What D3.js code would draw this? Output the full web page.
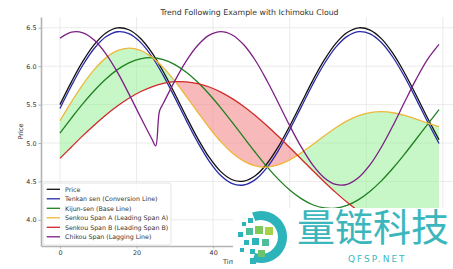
<!DOCTYPE html>
<html>
<head>
<meta charset="utf-8">
<script src="https://d3js.org/d3.v7.min.js"></script>
<style>
    body { margin: 0; background: #fff; }
    svg text { font-family: "DejaVu Sans", sans-serif; }
</style>
</head>
<body>
<script>
var time = [0, 3, 6, 9, 12, 15, 18, 21, 24, 27, 30, 33, 36, 39, 42, 45, 48, 51, 54, 57,
            60, 63, 66, 69, 72, 75, 78, 81, 84, 87, 90, 93, 96, 99];
var price = [5.500, 5.796, 6.065, 6.283, 6.432, 6.498, 6.474, 6.363, 6.176, 5.927, 5.641, 5.342,
             5.058, 4.812, 4.628, 4.522, 4.504, 4.574, 4.727, 4.949, 5.221, 5.517, 5.812, 6.078,
             6.294, 6.438, 6.499, 6.470, 6.355, 6.163, 5.912, 5.625, 5.326, 5.043];
var tenkan = [5.450, 5.746, 6.015, 6.233, 6.382, 6.448, 6.424, 6.313, 6.126, 5.877, 5.591, 5.292,
              5.008, 4.762, 4.578, 4.472, 4.454, 4.524, 4.677, 4.899, 5.171, 5.467, 5.762, 6.028,
              6.244, 6.388, 6.449, 6.420, 6.305, 6.113, 5.862, 5.575, 5.276, 4.993];
var kijun = [5.130, 5.325, 5.512, 5.683, 5.833, 5.955, 6.043, 6.096, 6.110, 6.084, 6.021, 5.922,
             5.792, 5.635, 5.458, 5.268, 5.073, 4.880, 4.696, 4.530, 4.388, 4.276, 4.197, 4.156,
             4.154, 4.190, 4.264, 4.373, 4.511, 4.675, 4.856, 5.049, 5.244, 5.435];
var senkouA = [5.290, 5.536, 5.764, 5.958, 6.108, 6.202, 6.234, 6.205, 6.118, 5.981, 5.806, 5.607,
               5.400, 5.199, 5.018, 4.870, 4.764, 4.702, 4.687, 4.715, 4.780, 4.872, 4.980, 5.092,
               5.199, 5.289, 5.357, 5.397, 5.408, 5.394, 5.359, 5.312, 5.260, 5.214];
var senkouB = [4.800, 4.949, 5.096, 5.235, 5.365, 5.482, 5.583, 5.667, 5.732, 5.776, 5.798, 5.797,
               5.774, 5.729, 5.663, 5.578, 5.476, 5.358, 5.227, 5.088, 4.941, 4.792, 4.642, 4.497,
               4.358, 4.228, 4.112, 4.012, 3.928, 3.865, 3.823, 3.802, 3.804, 3.828];
var chikouTime = [0, 3, 6, 9, 12, 15, 18, 21, 24, 25, 26, 27, 30, 33, 36, 39, 42, 45, 48, 51, 54,
                  57, 60, 63, 66, 69, 72, 75, 78, 81, 84, 87, 90, 93, 96, 99];
var chikou = [6.363, 6.443, 6.434, 6.337, 6.161, 5.922, 5.640, 5.342, 5.053, 4.963, 5.417, 5.517,
              5.809, 6.070, 6.273, 6.404, 6.450, 6.406, 6.278, 6.077, 5.817, 5.525, 5.226, 4.949,
              4.716, 4.549, 4.462, 4.463, 4.551, 4.718, 4.952, 5.230, 5.533, 5.828, 6.088, 6.283];

var xTicks = [0, 20, 40, 60, 80, 100];
var yTicks = [4.0, 4.5, 5.0, 5.5, 6.0, 6.5];
var legendLabels = ["Price", "Tenkan sen (Conversion Line)", "Kijun-sen (Base Line)",
                    "Senkou Span A (Leading Span A)", "Senkou Span B (Leading Span B)",
                    "Chikou Span (Lagging Line)"];
var colors = ["#111111", "#2a2aa8", "#1f801f", "#eeb83a", "#d02a2a", "#7d1f85"];

var width = 453, height = 269;
var pL = 41, pR = 458, pT = 17, pB = 246;

var svg = d3.select("body").append("svg")
    .attr("width", width)
    .attr("height", height);

var x = d3.scaleLinear().domain([-4.95, 103.95]).range([pL, pR]);
var y = d3.scaleLinear().domain([3.66, 6.64]).range([pB, pT]);

var defs = svg.append("defs");
defs.append("clipPath").attr("id", "plot")
    .append("rect").attr("x", pL).attr("y", pT)
    .attr("width", pR - pL).attr("height", pB - pT);

var curve = d3.curveCatmullRom.alpha(0.5);
var pts = time.map(function (t, i) { return { t: t, a: senkouA[i], b: senkouB[i] }; });

// regions above / below Senkou B, used to colour the cloud
defs.append("clipPath").attr("id", "aboveB")
    .append("path")
    .attr("d", d3.area().curve(curve)
        .x(function (d) { return x(d.t); })
        .y0(function (d) { return y(d.b); })
        .y1(0)(pts));
defs.append("clipPath").attr("id", "belowB")
    .append("path")
    .attr("d", d3.area().curve(curve)
        .x(function (d) { return x(d.t); })
        .y0(function (d) { return y(d.b); })
        .y1(height)(pts));

// grid
svg.append("g").selectAll("line").data(xTicks).enter().append("line")
    .attr("x1", function (d) { return x(d); }).attr("x2", function (d) { return x(d); })
    .attr("y1", pT).attr("y2", pB)
    .attr("stroke", "#e6e6e6").attr("stroke-width", 0.8);
svg.append("g").selectAll("line").data(yTicks).enter().append("line")
    .attr("x1", pL).attr("x2", pR)
    .attr("y1", function (d) { return y(d); }).attr("y2", function (d) { return y(d); })
    .attr("stroke", "#e6e6e6").attr("stroke-width", 0.8);

var plot = svg.append("g").attr("clip-path", "url(#plot)");

var cloud = d3.area().curve(curve)
    .x(function (d) { return x(d.t); })
    .y0(function (d) { return y(d.a); })
    .y1(function (d) { return y(d.b); });

plot.append("g").attr("clip-path", "url(#aboveB)")
    .append("path").attr("d", cloud(pts))
    .attr("fill", "#90ee90").attr("fill-opacity", 0.5);
plot.append("g").attr("clip-path", "url(#belowB)")
    .append("path").attr("d", cloud(pts))
    .attr("fill", "#f08080").attr("fill-opacity", 0.55);

var line = d3.line().curve(curve)
    .x(function (d) { return x(d[0]); })
    .y(function (d) { return y(d[1]); });

var series = [price, tenkan, kijun, senkouA, senkouB];
series.forEach(function (s, k) {
    plot.append("path")
        .attr("d", line(time.map(function (t, i) { return [t, s[i]]; })))
        .attr("fill", "none")
        .attr("stroke", colors[k])
        .attr("stroke-width", 1.3);
});
plot.append("path")
    .attr("d", line(chikouTime.map(function (t, i) { return [t, chikou[i]]; })))
    .attr("fill", "none")
    .attr("stroke", colors[5])
    .attr("stroke-width", 1.3);

// axes
var yAxis = svg.append("g")
    .attr("transform", "translate(" + pL + ",0)")
    .call(d3.axisLeft(y).tickValues(yTicks).tickFormat(d3.format(".1f"))
        .tickSize(2.5).tickSizeOuter(0).tickPadding(2));
var xAxis = svg.append("g")
    .attr("transform", "translate(0," + pB + ")")
    .call(d3.axisBottom(x).tickValues(xTicks).tickSize(2.5).tickSizeOuter(0).tickPadding(2));
[xAxis, yAxis].forEach(function (g) {
    g.select(".domain").attr("stroke", "#b3b3b3").attr("stroke-width", 1.6);
    g.selectAll(".tick line").attr("stroke", "#b3b3b3");
    g.selectAll(".tick text").attr("fill", "#333").style("font-size", "6.4px")
        .style("font-family", "DejaVu Sans, sans-serif");
});

svg.append("text")
    .attr("x", (pL + pR) / 2).attr("y", 14.5)
    .attr("text-anchor", "middle")
    .attr("fill", "#333").style("font-size", "7.8px")
    .text("Trend Following Example with Ichimoku Cloud");

svg.append("text")
    .attr("transform", "translate(23," + (pT + pB) / 2 + ") rotate(-90)")
    .attr("text-anchor", "middle")
    .attr("fill", "#333").style("font-size", "6.6px")
    .text("Price");

svg.append("text")
    .attr("x", 223).attr("y", 264)
    .attr("fill", "#333").style("font-size", "6.6px")
    .text("Time");

// legend
var legend = svg.append("g").attr("transform", "translate(43,183)");
legend.append("rect")
    .attr("width", 128).attr("height", 62).attr("rx", 2)
    .attr("fill", "#fff").attr("fill-opacity", 0.8)
    .attr("stroke", "#dcdcdc").attr("stroke-width", 0.8);
legendLabels.forEach(function (name, i) {
    var row = legend.append("g").attr("transform", "translate(0," + (6.3 + i * 9.5) + ")");
    row.append("line").attr("x1", 3.7).attr("x2", 17)
        .attr("stroke", colors[i]).attr("stroke-width", 1.3);
    row.append("text").attr("x", 22).attr("dy", "0.35em")
        .attr("fill", "#333").style("font-size", "6.3px")
        .text(name);
});

// watermark block in the lower right corner
var wm = svg.append("g");
wm.append("rect").attr("x", 233).attr("y", 208).attr("width", 220).attr("height", 61).attr("fill", "#fff");
var ring = d3.arc().innerRadius(17).outerRadius(26).startAngle(-0.35).endAngle(Math.PI + 0.35);
wm.append("path").attr("d", ring()).attr("transform", "translate(261,237)").attr("fill", "#2db3ba");
var squares = [[242, 222, 4, "#2db3ba"], [248, 218, 5, "#2db3ba"], [238, 232, 5, "#2db3ba"],
               [246, 228, 7, "#4cbf9a"], [255, 226, 8, "#7cc95a"], [265, 227, 8, "#a6d24a"],
               [244, 240, 5, "#2db3ba"], [252, 238, 7, "#2db3ba"], [262, 239, 7, "#4cbf9a"],
               [240, 248, 4, "#2db3ba"], [250, 249, 5, "#2db3ba"], [258, 250, 7, "#6cc46a"],
               [250, 258, 6, "#2db3ba"]];
wm.selectAll(".sq").data(squares).enter().append("rect")
    .attr("x", function (d) { return d[0]; }).attr("y", function (d) { return d[1]; })
    .attr("width", function (d) { return d[2]; }).attr("height", function (d) { return d[2]; })
    .attr("fill", function (d) { return d[3]; });
wm.append("text").attr("x", 297).attr("y", 241)
    .attr("fill", "#3cb6bd")
    .style("font-family", "Noto Sans CJK SC").style("font-size", "38px")
    .text("量链科技");
wm.append("text").attr("x", 348).attr("y", 262)
    .attr("fill", "#3cb6bd")
    .style("font-size", "9px").style("letter-spacing", "2px")
    .text("QFSP.NET");
</script>
</body>
</html>
